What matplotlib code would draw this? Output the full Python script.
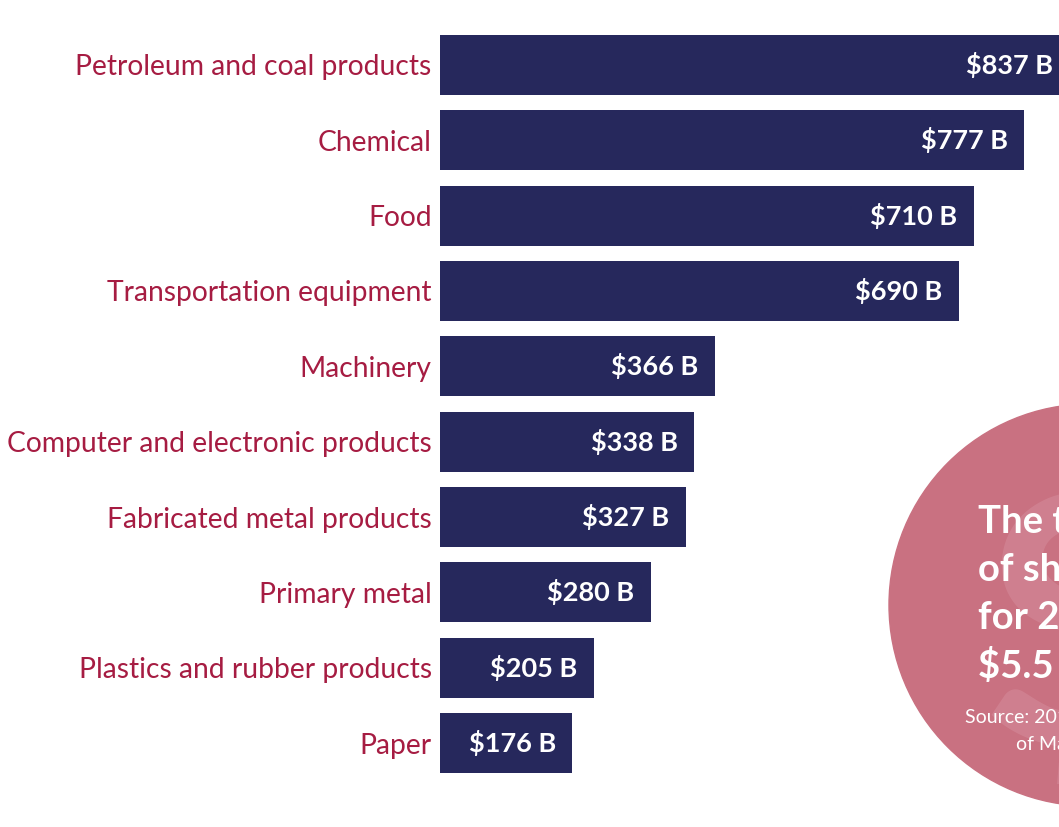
import matplotlib
matplotlib.use("Agg")
import matplotlib.pyplot as plt
from matplotlib.patches import Circle

categories = ["Petroleum and coal products", "Chemical", "Food", "Transportation equipment",
              "Machinery", "Computer and electronic products", "Fabricated metal products",
              "Primary metal", "Plastics and rubber products", "Paper"]
values = [837, 777, 710, 690, 366, 338, 327, 280, 205, 176]
value_labels = ["$837 B", "$777 B", "$710 B", "$690 B", "$366 B", "$338 B", "$327 B",
                "$280 B", "$205 B", "$176 B"]
callout_lines = ["The total value", "of shipments", "for 2019 was", "$5.5 trillion"]
source_lines = ["Source: 2019 Annual Survey", "of Manufactures"]

BAR = "#26285c"
LABEL = "#a61c42"
PINK = "#c97181"
FONT = "Lato"

W, H = 1059, 827
fig = plt.figure(figsize=(W / 100, H / 100), dpi=100)
fig.patch.set_facecolor("white")

left = 440 / W
top = 1 - 27.3 / H
bottom = 1 - 780.7 / H
ax = fig.add_axes([left, bottom, 1 - left, top - bottom])
y = list(range(len(categories)))
ax.barh(y, values, height=0.8, color=BAR)
ax.set_xlim(0, (W - 440) / 0.752)
ax.set_ylim(len(categories) - 0.5, -0.5)
ax.set_yticks(y)
ax.set_yticklabels(categories, fontsize=20.3, color=LABEL, family=FONT)
ax.tick_params(axis="y", length=0, pad=6)
ax.set_xticks([])
for s in ax.spines.values():
    s.set_visible(False)
for yi, v, lab in zip(y, values, value_labels):
    ax.text(v - 22, yi, lab, ha="right", va="center", color="white",
            fontsize=19.5, fontweight="bold", family=FONT)

# Callout circle overlay in pixel coordinates
ov = fig.add_axes([0, 0, 1, 1], facecolor="none")
ov.set_xlim(0, W)
ov.set_ylim(H, 0)
ov.axis("off")
ov.add_patch(Circle((1090, 605), 201, color=PINK, zorder=1))
ov.text(1080, 640, "$", fontsize=250, color="#d48a99", ha="center", va="center",
        fontweight="bold", family=FONT, zorder=2, alpha=0.6)
for i, line in enumerate(callout_lines):
    ov.text(978, 522 + i * 48, line, fontsize=27.5, fontweight="bold", color="white",
            ha="left", va="center", family=FONT, zorder=3)
for i, line in enumerate(source_lines):
    ov.text(1087, 718 + i * 27, line, fontsize=14, color="white",
            ha="center", va="center", family=FONT, zorder=3)

fig.savefig("out.png", dpi=100)
